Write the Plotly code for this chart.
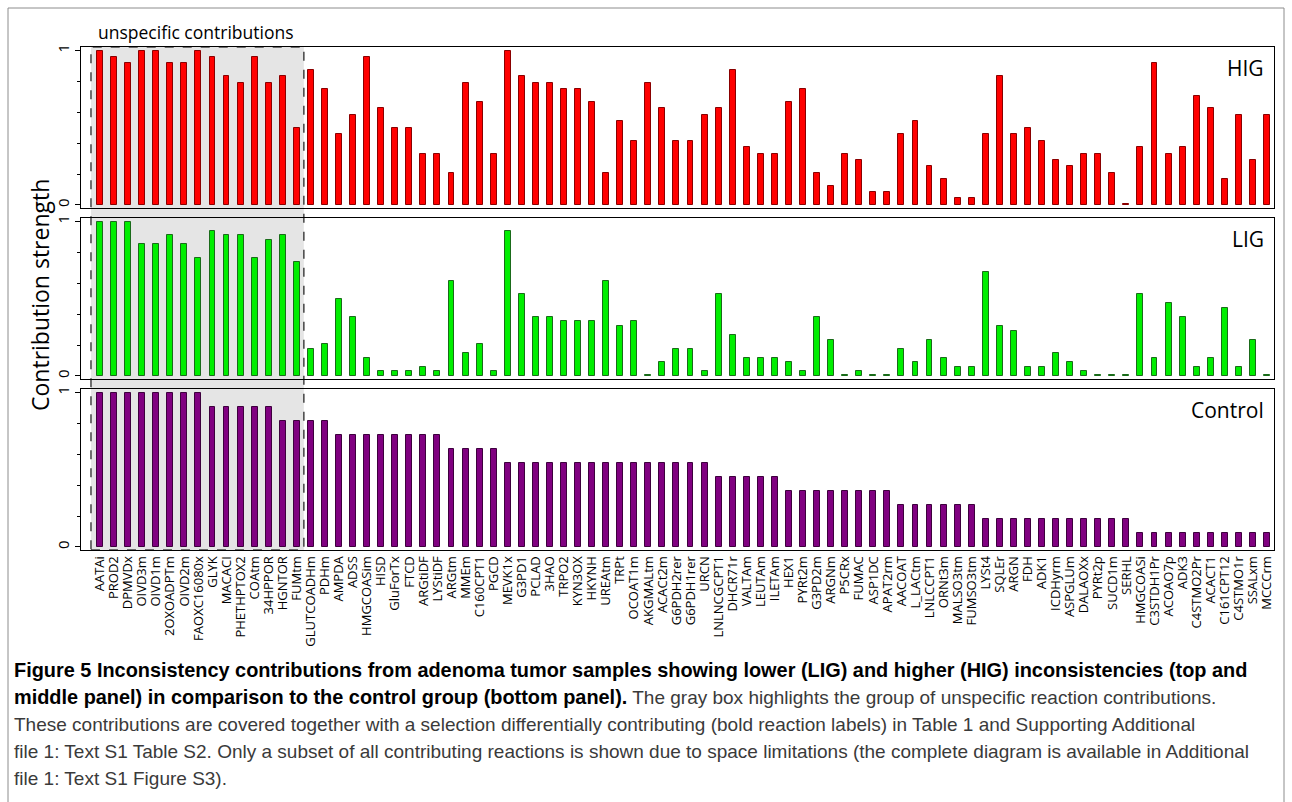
import plotly.graph_objects as go

# Reaction names shown along the x axis
reactions = [
    "AATAi", "PROD2", "DPMVDx", "OIVD3m", "OIVD1m", "2OXOADPTm", "OIVD2m", "FAOXC16080x",
    "GLYK", "MACACI", "PHETHPTOX2", "COAtm", "34HPPOR", "HGNTOR", "FUMtm", "GLUTCOADHm",
    "PDHm", "AMPDA", "ADSS", "HMGCOASim", "HISD", "GluForTx", "FTCD", "ARGtiDF",
    "LYStiDF", "ARGtm", "MMEm", "C160CPT1", "PGCD", "MEVK1x", "G3PD1", "PCLAD",
    "3HAO", "TRPO2", "KYN3OX", "HKYNH", "UREAtm", "TRPt", "OCOAT1m", "AKGMALtm",
    "ACACt2m", "G6PDH2rer", "G6PDH1rer", "URCN", "LNLNCGCPT1", "DHCR71r", "VALTAm", "LEUTAm",
    "ILETAm", "HEX1", "PYRt2m", "G3PD2m", "ARGNm", "P5CRx", "FUMAC", "ASP1DC",
    "APAT2rm", "AACOAT", "L_LACtm", "LNLCCPT1", "ORNt3m", "MALSO3tm", "FUMSO3tm", "LYSt4",
    "SQLEr", "ARGN", "FDH", "ADK1", "ICDHyrm", "ASPGLUm", "DALAOXx", "PYRt2p",
    "SUCD1m", "SERHL", "HMGCOASi", "C3STDH1Pr", "ACOAO7p", "ADK3", "C4STMO2Pr", "ACACT1",
    "C161CPT12", "C4STMO1r", "SSALxm", "MCCCrm",
]

# Contribution strength, higher inconsistency group
hig = [
    1.0, 0.958, 0.917, 1.0, 1.0, 0.917, 0.917, 1.0,
    0.958, 0.833, 0.792, 0.958, 0.792, 0.833, 0.5, 0.875,
    0.75, 0.458, 0.583, 0.958, 0.625, 0.5, 0.5, 0.333,
    0.333, 0.208, 0.792, 0.667, 0.333, 1.0, 0.833, 0.792,
    0.792, 0.75, 0.75, 0.667, 0.208, 0.542, 0.417, 0.792,
    0.625, 0.417, 0.417, 0.583, 0.625, 0.875, 0.375, 0.333,
    0.333, 0.667, 0.75, 0.208, 0.125, 0.333, 0.292, 0.083,
    0.083, 0.458, 0.542, 0.25, 0.167, 0.042, 0.042, 0.458,
    0.833, 0.458, 0.5, 0.417, 0.292, 0.25, 0.333, 0.333,
    0.208, 0.005, 0.375, 0.917, 0.333, 0.375, 0.708, 0.625,
    0.167, 0.583, 0.292, 0.583,
]

# Contribution strength, lower inconsistency group
lig = [
    1.0, 1.0, 1.0, 0.853, 0.853, 0.912, 0.853, 0.765,
    0.941, 0.912, 0.912, 0.765, 0.882, 0.912, 0.735, 0.176,
    0.206, 0.5, 0.382, 0.118, 0.029, 0.029, 0.029, 0.059,
    0.029, 0.618, 0.147, 0.206, 0.029, 0.941, 0.529, 0.382,
    0.382, 0.353, 0.353, 0.353, 0.618, 0.324, 0.353, 0.005,
    0.088, 0.176, 0.176, 0.029, 0.529, 0.265, 0.118, 0.118,
    0.118, 0.088, 0.029, 0.382, 0.235, 0.005, 0.029, 0.005,
    0.005, 0.176, 0.088, 0.235, 0.118, 0.059, 0.059, 0.676,
    0.324, 0.294, 0.059, 0.059, 0.147, 0.088, 0.029, 0.005,
    0.005, 0.005, 0.529, 0.118, 0.471, 0.382, 0.059, 0.118,
    0.441, 0.059, 0.235, 0.005,
]

# Contribution strength, control group
control = [
    1.0, 1.0, 1.0, 1.0, 1.0, 1.0, 1.0, 1.0,
    0.909, 0.909, 0.909, 0.909, 0.909, 0.818, 0.818, 0.818,
    0.818, 0.727, 0.727, 0.727, 0.727, 0.727, 0.727, 0.727,
    0.727, 0.636, 0.636, 0.636, 0.636, 0.545, 0.545, 0.545,
    0.545, 0.545, 0.545, 0.545, 0.545, 0.545, 0.545, 0.545,
    0.545, 0.545, 0.545, 0.545, 0.455, 0.455, 0.455, 0.455,
    0.455, 0.364, 0.364, 0.364, 0.364, 0.364, 0.364, 0.364,
    0.364, 0.273, 0.273, 0.273, 0.273, 0.273, 0.273, 0.182,
    0.182, 0.182, 0.182, 0.182, 0.182, 0.182, 0.182, 0.182,
    0.182, 0.182, 0.091, 0.091, 0.091, 0.091, 0.091, 0.091,
    0.091, 0.091, 0.091, 0.091,
]

panel_names = ["HIG", "LIG", "Control"]
n_unspecific = 15

W, H = 1292, 802
PL, PR, PT, PB = 81, 1274, 47, 550   # plot-area edges in pixels
FONT = "Open Sans"
CAP_FONT = "Liberation Sans"


def px(xp):
    return (xp - PL) / (PR - PL)


def py(yp):
    return (PB - yp) / (PB - PT)


idx = list(range(len(reactions)))
xr = [-1.35, len(reactions) - 0.5]
yr = [-0.02, 1.023]

panels = [
    (hig, "#ff0000", "#8a0000", [py(208), 1.0]),
    (lig, "#00ee00", "#1a6b1a", [py(379), py(218)]),
    (control, "#800080", "#3d003d", [0.0, py(389)]),
]

fig = go.Figure()
for k, (vals, col, edge, dom) in enumerate(panels):
    sfx = "" if k == 0 else str(k + 1)
    fig.add_trace(go.Bar(
        x=idx, y=vals, width=0.42,
        marker=dict(color=col, line=dict(color=edge, width=1)),
        xaxis="x" + sfx, yaxis="y" + sfx, showlegend=False,
        hovertext=reactions, name=panel_names[k],
    ))
    xa = dict(
        range=xr, domain=[0, 1], anchor="y" + sfx,
        showline=True, linecolor="black", linewidth=1, mirror=True,
        showgrid=False, zeroline=False,
        tickmode="array", tickvals=idx,
        ticktext=reactions if k == 2 else [""] * len(idx),
        showticklabels=(k == 2), ticks="",
        tickangle=-90, tickfont=dict(family=FONT, size=13, color="black"),
    )
    ya = dict(
        range=yr, domain=dom, anchor="x" + sfx,
        showline=True, linecolor="black", linewidth=1, mirror=True,
        showgrid=False, zeroline=False,
        tickmode="array", tickvals=[0, 1], ticktext=["0", "1"],
        ticks="outside", ticklen=5, tickcolor="black",
        tickangle=-90, tickfont=dict(family=FONT, size=15, color="black"),
        minor=dict(tickvals=[0.2, 0.4, 0.6, 0.8], ticks="outside",
                   ticklen=3, tickcolor="black"),
    )
    if k > 0:
        xa["matches"] = "x"
    fig.layout["xaxis" + sfx] = xa
    fig.layout["yaxis" + sfx] = ya

shapes = [
    # gray box marking the unspecific contributions
    dict(type="rect", xref="x", yref="paper",
         x0=-0.64, x1=n_unspecific - 0.5, y0=0, y1=1,
         fillcolor="#e5e5e5", layer="below",
         line=dict(color="#444444", width=1.5, dash="dash")),
    # outer frame around figure and caption
    dict(type="rect", xref="paper", yref="paper",
         x0=px(8), x1=px(1284), y0=py(830), y1=py(8),
         fillcolor="rgba(0,0,0,0)", line=dict(color="#8c8c8c", width=1)),
]

annotations = [
    dict(text="unspecific contributions", xref="paper", yref="paper",
         x=px(96), y=py(32), xanchor="left", yanchor="middle", showarrow=False,
         font=dict(family=FONT, size=17.5, color="black")),
    dict(text="Contribution strength", xref="paper", yref="paper",
         x=px(40), y=py(295), xanchor="center", yanchor="middle", showarrow=False,
         textangle=-90, font=dict(family=FONT, size=23, color="black")),
]
for name, ypx in zip(panel_names, [68, 239, 410]):
    annotations.append(dict(
        text=name, xref="paper", yref="paper", x=px(1266), y=py(ypx),
        xanchor="right", yanchor="middle", showarrow=False,
        font=dict(family=FONT, size=21, color="black")))

BOLD = '<b><span style="font-size:19.9px;color:black">'
caption = [
    BOLD + "Figure 5 Inconsistency contributions from adenoma tumor samples showing lower (LIG) "
    "and higher (HIG) inconsistencies (top and</span></b>",
    BOLD + "middle panel) in comparison to the control group (bottom panel).</span></b>"
    " The gray box highlights the group of unspecific reaction contributions.",
    "These contributions are covered together with a selection differentially contributing "
    "(bold reaction labels) in Table 1 and Supporting Additional",
    "file 1: Text S1 Table S2. Only a subset of all contributing reactions is shown due to "
    "space limitations (the complete diagram is available in Additional",
    "file 1: Text S1 Figure S3).",
]
for i, line in enumerate(caption):
    annotations.append(dict(
        text=line, xref="paper", yref="paper", x=px(12), y=py(670 + 27.2 * i),
        xanchor="left", yanchor="middle", showarrow=False, align="left",
        font=dict(family=CAP_FONT, size=19, color="#3a3a3a")))

fig.update_layout(
    width=W, height=H,
    margin=dict(l=PL, r=W - PR, t=PT, b=H - PB, autoexpand=False),
    paper_bgcolor="white", plot_bgcolor="rgba(0,0,0,0)",
    shapes=shapes, annotations=annotations, bargap=0,
)

fig.write_html("out.html")
